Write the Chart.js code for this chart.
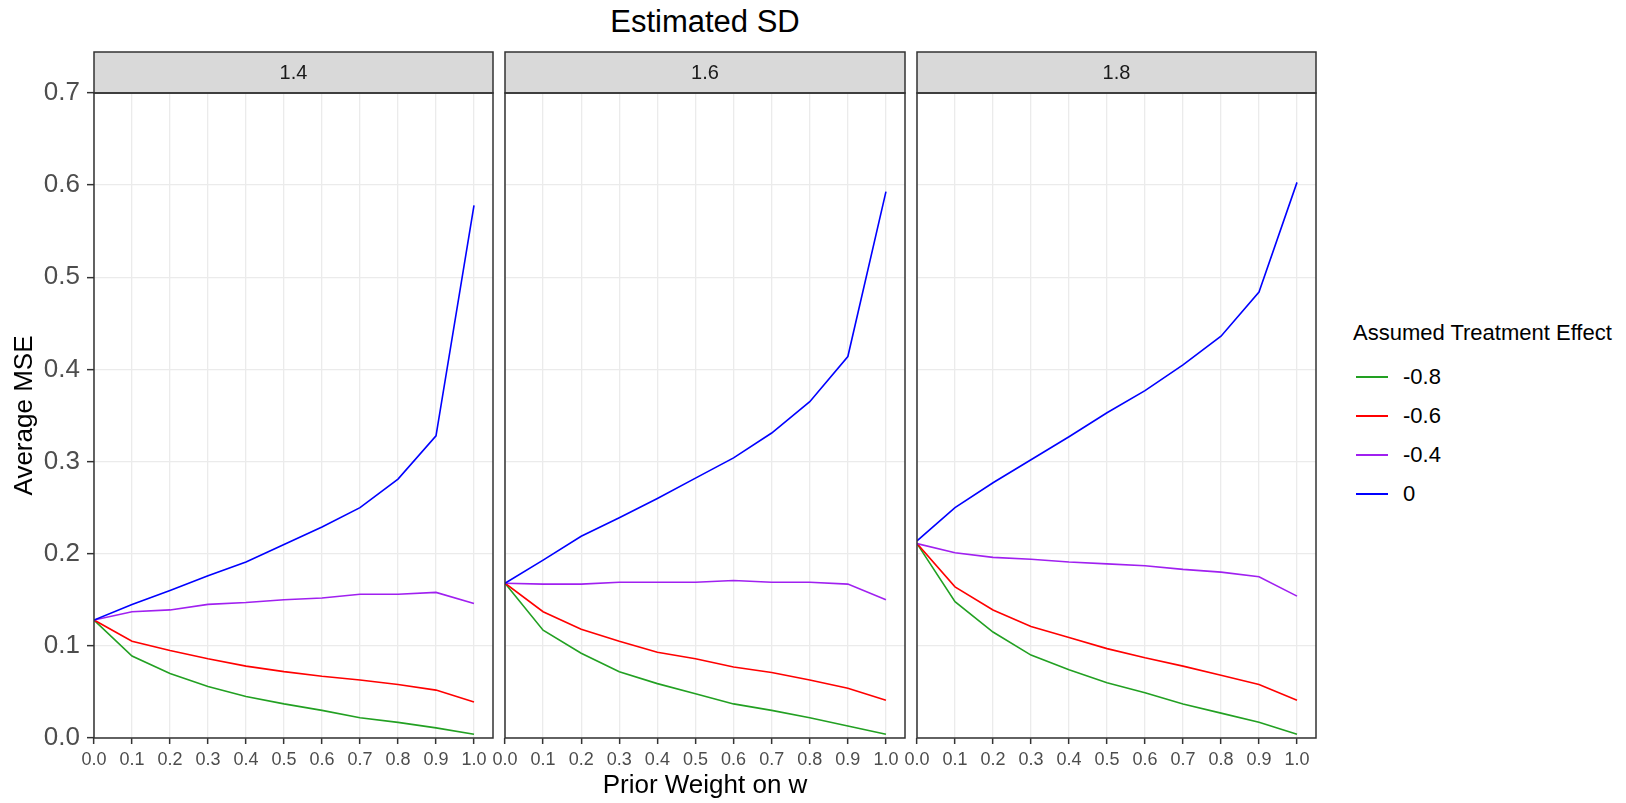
<!DOCTYPE html>
<html>
<head>
<meta charset="utf-8">
<script src="https://cdn.jsdelivr.net/npm/chart.js@4.4.1/dist/chart.umd.min.js"></script>
<style>
  body { margin: 0; background: #fff; font-family: 'Liberation Sans', Arial, sans-serif; }
  #wrap { position: relative; width: 1626px; height: 803px; overflow: hidden; }
  canvas { position: absolute; top: 0; }
  .title { position: absolute; left: 0; top: 3px; width: 1410px; text-align: center; font-size: 31px; line-height: 38px; color: #000; }
  .legend { position: absolute; left: 1353px; top: 318px; color: #000; }
  .legend .head { font-size: 22px; line-height: 30px; margin-bottom: 10px; }
  .legend .item { height: 40px; display: flex; align-items: center; font-size: 22px; margin-top: -1px; }
  .legend .swatch { width: 32px; height: 0; border-top: 2px solid; margin-left: 3px; margin-right: 15px; }
</style>
</head>
<body>
<div id="wrap">
  <div class="title">Estimated SD</div>
  <canvas id="panel1" width="500" height="803" style="left:0px"></canvas>
  <canvas id="panel2" width="440" height="803" style="left:480px"></canvas>
  <canvas id="panel3" width="440" height="803" style="left:895px"></canvas>
  <div class="legend" id="legend"></div>
</div>
<script>
// facet labels, groups and axis ticks
const sdPanels = ['1.4', '1.6', '1.8'];
const effectLabels = ['-0.8', '-0.6', '-0.4', '0'];
const effectColors = ['#22a022', '#ff0000', '#a020f0', '#0000ff'];
const weights = [0, 0.1, 0.2, 0.3, 0.4, 0.5, 0.6, 0.7, 0.8, 0.9, 1.0];
const yTicks = [0, 0.1, 0.2, 0.3, 0.4, 0.5, 0.6, 0.7];

// average MSE, SD = 1.4
const sd14Eff08 = [0.128, 0.089, 0.070, 0.056, 0.045, 0.037, 0.030, 0.022, 0.017, 0.011, 0.004];
const sd14Eff06 = [0.128, 0.105, 0.095, 0.086, 0.078, 0.072, 0.067, 0.063, 0.058, 0.052, 0.039];
const sd14Eff04 = [0.128, 0.137, 0.139, 0.145, 0.147, 0.150, 0.152, 0.156, 0.156, 0.158, 0.146];
const sd14Eff00 = [0.128, 0.145, 0.160, 0.176, 0.191, 0.210, 0.229, 0.250, 0.281, 0.328, 0.578];

// average MSE, SD = 1.6
const sd16Eff08 = [0.168, 0.117, 0.092, 0.072, 0.059, 0.048, 0.037, 0.030, 0.022, 0.013, 0.004];
const sd16Eff06 = [0.168, 0.137, 0.118, 0.105, 0.093, 0.086, 0.077, 0.071, 0.063, 0.054, 0.041];
const sd16Eff04 = [0.168, 0.167, 0.167, 0.169, 0.169, 0.169, 0.171, 0.169, 0.169, 0.167, 0.150];
const sd16Eff00 = [0.168, 0.193, 0.219, 0.239, 0.260, 0.282, 0.304, 0.331, 0.365, 0.414, 0.593];

// average MSE, SD = 1.8
const sd18Eff08 = [0.211, 0.148, 0.115, 0.090, 0.074, 0.060, 0.049, 0.037, 0.027, 0.017, 0.004];
const sd18Eff06 = [0.211, 0.164, 0.139, 0.121, 0.109, 0.097, 0.087, 0.078, 0.068, 0.058, 0.041];
const sd18Eff04 = [0.211, 0.201, 0.196, 0.194, 0.191, 0.189, 0.187, 0.183, 0.180, 0.175, 0.154];
const sd18Eff00 = [0.214, 0.250, 0.277, 0.302, 0.327, 0.353, 0.377, 0.405, 0.436, 0.484, 0.603];

const FONT = "'Liberation Sans', Arial, sans-serif";
const STRIP_TOP = 52;

// strip on top of each facet + dark panel border
const facetPlugin = {
  id: 'facet',
  afterDraw(chart, args, opts) {
    const { ctx, chartArea: a } = chart;
    ctx.save();
    ctx.fillStyle = '#d9d9d9';
    ctx.fillRect(a.left, STRIP_TOP, a.right - a.left, a.top - STRIP_TOP);
    ctx.strokeStyle = '#333333';
    ctx.lineWidth = 1.5;
    ctx.strokeRect(a.left, STRIP_TOP, a.right - a.left, a.top - STRIP_TOP);
    ctx.strokeRect(a.left, a.top, a.right - a.left, a.bottom - a.top);
    ctx.fillStyle = '#1a1a1a';
    ctx.font = '20px ' + FONT;
    ctx.textAlign = 'center';
    ctx.textBaseline = 'middle';
    ctx.fillText(opts.label, (a.left + a.right) / 2, (STRIP_TOP + a.top) / 2 + 1);
    ctx.restore();
  }
};

function makePanel(canvasId, sdLabel, series, opt) {
  const datasets = series.map((vals, i) => ({
    label: effectLabels[i],
    data: weights.map((w, j) => ({ x: w, y: vals[j] })),
    borderColor: effectColors[i],
    borderWidth: 1.6,
    pointRadius: 0,
    tension: 0,
    fill: false,
    order: series.length - i
  }));

  return new Chart(document.getElementById(canvasId), {
    type: 'line',
    data: { datasets },
    options: {
      responsive: false,
      animation: false,
      layout: { padding: { top: 93, bottom: 0, left: opt.padLeft, right: opt.padRight } },
      plugins: {
        legend: { display: false },
        tooltip: { enabled: false },
        facet: { label: sdLabel }
      },
      scales: {
        x: {
          type: 'linear',
          min: 0,
          max: 1.05,
          afterBuildTicks: s => { s.ticks = weights.map(v => ({ value: v })); },
          afterFit: s => { s.height = 65; },
          grid: { color: '#ebebeb', lineWidth: 1.3, tickColor: '#333333', tickLength: 6, tickWidth: 1.5 },
          border: { display: false },
          ticks: {
            autoSkip: false, maxRotation: 0, padding: 5,
            color: '#4d4d4d', font: { family: FONT, size: 18 },
            callback: v => v.toFixed(1)
          },
          title: {
            display: !!opt.xTitle, text: opt.xTitle || '',
            color: '#000', font: { family: FONT, size: 26 }, padding: { top: 0, bottom: 2 }
          }
        },
        y: {
          min: 0,
          max: 0.7,
          afterBuildTicks: s => { s.ticks = yTicks.map(v => ({ value: v })); },
          afterFit: s => { s.width = opt.yWidth; },
          grid: { color: '#ebebeb', lineWidth: 1.3, tickColor: '#333333', tickLength: 7, tickWidth: 1.5, drawTicks: opt.yLabels },
          border: { display: false },
          ticks: {
            display: opt.yLabels, padding: 7,
            color: '#4d4d4d', font: { family: FONT, size: 26 },
            callback: v => v.toFixed(1)
          },
          title: {
            display: !!opt.yTitle, text: opt.yTitle || '',
            color: '#000', font: { family: FONT, size: 26 }, padding: { top: 9, bottom: 0 }
          }
        }
      }
    },
    plugins: [facetPlugin]
  });
}

makePanel('panel1', sdPanels[0], [sd14Eff08, sd14Eff06, sd14Eff04, sd14Eff00],
  { padLeft: 0, padRight: 7, yWidth: 94, yLabels: true, yTitle: 'Average MSE' });
makePanel('panel2', sdPanels[1], [sd16Eff08, sd16Eff06, sd16Eff04, sd16Eff00],
  { padLeft: 25, padRight: 15, yWidth: 0, yLabels: false, xTitle: 'Prior Weight on w' });
makePanel('panel3', sdPanels[2], [sd18Eff08, sd18Eff06, sd18Eff04, sd18Eff00],
  { padLeft: 22, padRight: 19, yWidth: 0, yLabels: false });

// legend
const legend = document.getElementById('legend');
legend.innerHTML = '<div class="head">Assumed Treatment Effect</div>' +
  effectLabels.map((lab, i) =>
    '<div class="item"><span class="swatch" style="border-color:' + effectColors[i] + '"></span>' + lab + '</div>'
  ).join('');
</script>
</body>
</html>
